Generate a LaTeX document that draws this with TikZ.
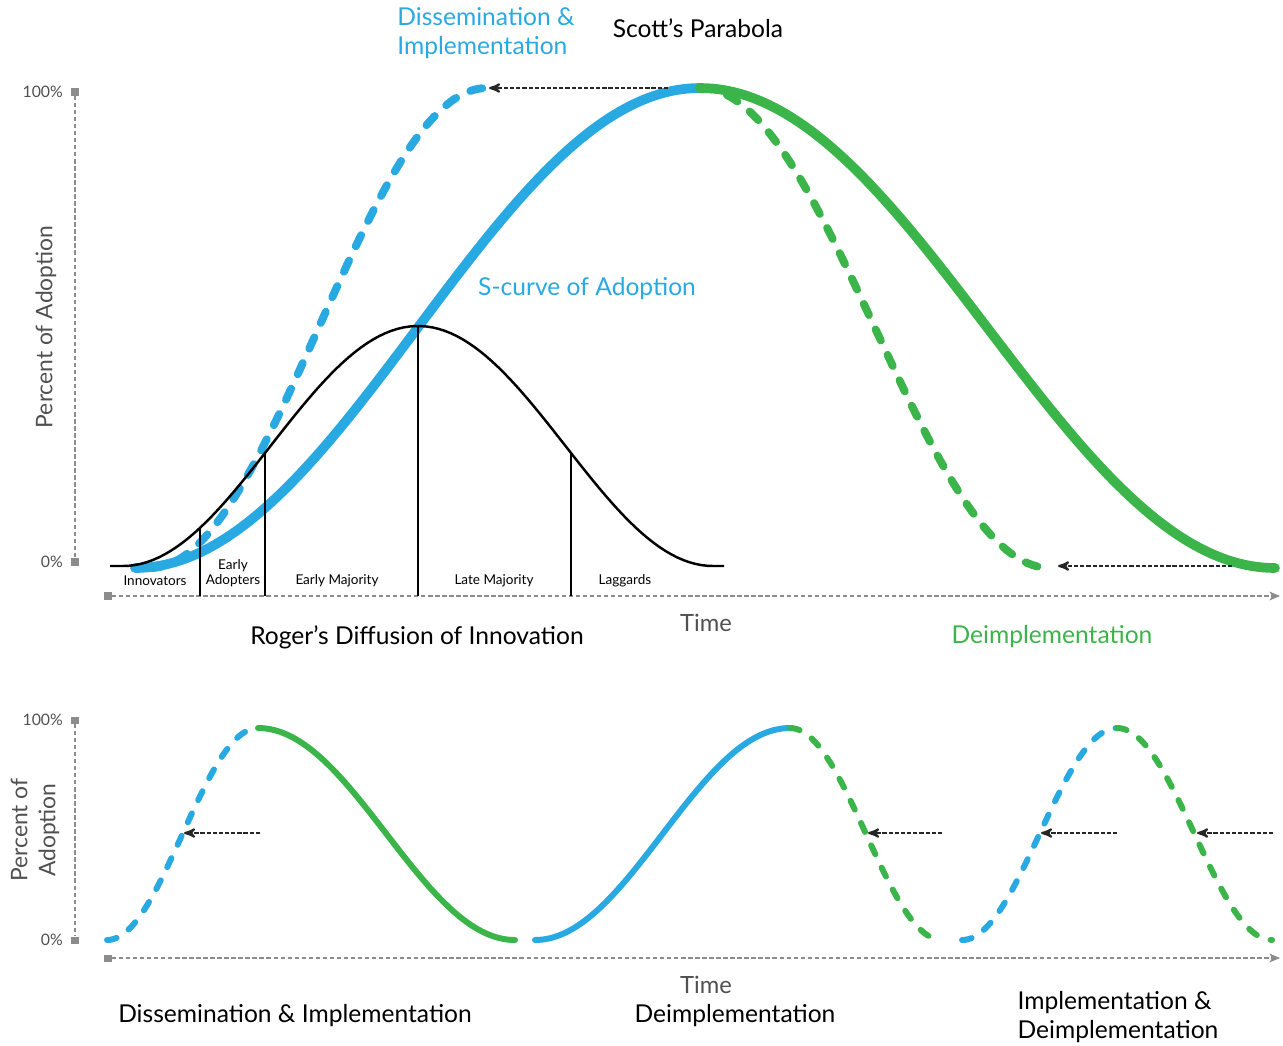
\documentclass[tikz,border=0pt]{standalone}
\usepackage{fontspec}
\setmainfont{Lato}
\usetikzlibrary{arrows,arrows.meta}
\definecolor{adopt}{HTML}{29A9E1}
\definecolor{deimp}{HTML}{3BB54A}
\definecolor{axisgray}{HTML}{8C8C8C}
\definecolor{txtgray}{HTML}{505050}

\begin{document}
\begin{tikzpicture}[x=0.02cm,y=-0.02cm,>=stealth',
    heading/.style={font=\fontsize{14}{16.5}\selectfont},
    phase/.style={font=\fontsize{7.7}{8.8}\selectfont,align=center},
    pct/.style={font=\fontsize{9}{10}\selectfont,text=txtgray,anchor=east},
    ytitle/.style={font=\fontsize{13}{16}\selectfont,text=txtgray,rotate=90,align=center},
    timetext/.style={font=\fontsize{13.5}{16}\selectfont,text=txtgray},
    marker/.style={rectangle,fill=axisgray,minimum size=4pt,inner sep=0pt},
    axis/.style={axisgray,line width=0.6pt,dash pattern=on 2.5pt off 1.5pt},
    timearrow/.style={-{Stealth[length=6pt,width=5pt,inset=1.5pt]}},
    pointer/.style={->,black!85,line width=1.2pt,dash pattern=on 2.4pt off 1.1pt},
    bigsolid/.style={line width=5.5pt,line cap=round},
    bigdashed/.style={line width=4.5pt,line cap=round,dash pattern=on 7pt off 9pt},
    solid3/.style={line width=3.4pt,line cap=round},
    dashed3/.style={line width=3.4pt,line cap=round,dash pattern=on 5.6pt off 8.4pt},
    bell/.style={line width=1.4pt,black}]
    \useasboundingbox (0,0) rectangle (1283,1045);

    % top panel: axes
    \node[marker] (ytop) at (75,92) {};
    \node[marker] (ybot) at (75,562) {};
    \draw[axis] (ytop) -- (ybot);
    \node[pct] (p100) at (69,92) {100\%};
    \node[pct] (p0) at (69,562) {0\%};
    \node[ytitle] (ylab) at (46,327) {Percent of Adoption};
    \node[marker] (xstart) at (108,596) {};
    \coordinate (xend) at (1280,596);
    \draw[axis,timearrow] (xstart) -- (xend);

    % top panel: curves
    \draw[bigdashed,deimp] plot[domain=700:1050,samples=80] (\x,{88+240*(1-cos((\x-700)/350*180))});
    \draw[bigdashed,adopt] plot[domain=150:487,samples=80] (\x,{568-240*(1-cos((\x-150)/337*180))});
    \draw[bigsolid,adopt] plot[domain=135:700,samples=100] (\x,{568-240*(1-cos((\x-135)/565*180))});
    \draw[bigsolid,deimp] plot[domain=700:1275,samples=100] (\x,{88+240*(1-cos((\x-700)/575*180))});
    \draw[bell] (110,566) -- plot[domain=123:713,samples=100] (\x,{566-120*(1+cos((\x-418)/295*180))}) -- (724,566);
    \foreach \v in {200,265,418,571}
        \draw[line width=0.8pt] (\v,{566-120*(1+cos((\v-418)/295*180))}) -- (\v,596);

    \coordinate (topfrom) at (668,88);
    \coordinate (topto) at (489,88);
    \draw[pointer] (topfrom) -- (topto);
    \coordinate (lowfrom) at (1232,566);
    \coordinate (lowto) at (1058,566);
    \draw[pointer] (lowfrom) -- (lowto);

    % top panel: texts
    \node[phase] (innov) at (155,581) {Innovators};
    \node[phase] (early) at (233,573) {Early\\Adopters};
    \node[phase] (emaj) at (337,581) {Early Majority};
    \node[phase] (lmaj) at (494,581) {Late Majority};
    \node[phase] (lag) at (625,581) {Laggards};
    \node[heading,text=adopt,align=left] (dissem) at (486,33) {Dissemination \&\\Implementation};
    \node[heading] (scott) at (698,28) {Scott’s Parabola};
    \node[heading,text=adopt] (scurve) at (587,289) {S-curve of Adoption};
    \node[heading] (roger) at (417,637) {Roger’s Diffusion of Innovation};
    \node[timetext] (time1) at (706,623) {Time};
    \node[heading,text=deimp] (deimp1) at (1052,637) {Deimplementation};

    % bottom panel: axes
    \node[marker] (ytop2) at (75,720) {};
    \node[marker] (ybot2) at (75,940) {};
    \draw[axis] (ytop2) -- (ybot2);
    \node[pct] (q100) at (69,720) {100\%};
    \node[pct] (q0) at (69,940) {0\%};
    \node[ytitle] (ylab2) at (35,830) {Percent of\\Adoption};
    \node[marker] (xstart2) at (108,958) {};
    \coordinate (xend2) at (1280,958);
    \draw[axis,timearrow] (xstart2) -- (xend2);

    % bottom panel: curves
    \draw[dashed3,adopt] plot[domain=107:258,samples=50] (\x,{940-106*(1-cos((\x-107)/151*180))});
    \draw[solid3,deimp] plot[domain=258:515,samples=70] (\x,{728+106*(1-cos((\x-258)/257*180))});
    \draw[solid3,adopt] plot[domain=535:790,samples=70] (\x,{940-106*(1-cos((\x-535)/255*180))});
    \draw[dashed3,deimp] plot[domain=790:942,samples=50] (\x,{728+106*(1-cos((\x-790)/152*180))});
    \draw[dashed3,adopt] plot[domain=962:1117,samples=50] (\x,{940-106*(1-cos((\x-962)/155*180))});
    \draw[dashed3,deimp] plot[domain=1117:1272,samples=50] (\x,{728+106*(1-cos((\x-1117)/155*180))});

    \coordinate (b1from) at (260,833);
    \coordinate (b1to) at (184,833);
    \coordinate (b2from) at (942,833);
    \coordinate (b2to) at (868,833);
    \coordinate (b3from) at (1117,833);
    \coordinate (b3to) at (1041,833);
    \coordinate (b4from) at (1273,833);
    \coordinate (b4to) at (1197,833);
    \draw[pointer] (b1from) -- (b1to);
    \draw[pointer] (b2from) -- (b2to);
    \draw[pointer] (b3from) -- (b3to);
    \draw[pointer] (b4from) -- (b4to);

    % bottom panel: texts
    \node[timetext] (time2) at (706,985) {Time};
    \node[heading] (dissem2) at (295,1016) {Dissemination \& Implementation};
    \node[heading] (deimp2) at (735,1016) {Deimplementation};
    \node[heading,align=left] (both) at (1118,1017) {Implementation \&\\Deimplementation};
\end{tikzpicture}
\end{document}
